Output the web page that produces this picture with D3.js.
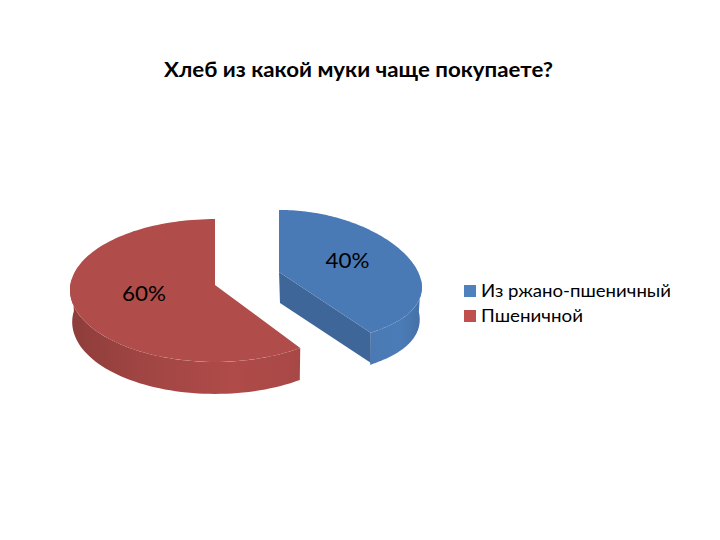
<!DOCTYPE html>
<html><head><meta charset="utf-8"><style>html,body{margin:0;background:#fff}svg{display:block}text{font-family:Lato,"Open Sans",sans-serif;fill:#000}</style>
<script src="https://cdn.jsdelivr.net/npm/d3@7"></script></head><body><div id="c"></div>
<script>
const categories = ["Из ржано-пшеничный", "Пшеничной"];
const values = [40, 60];
const valueLabels = ["40%", "60%"];
const titleText = "Хлеб из какой муки чаще покупаете?";

const svg = d3.select("#c").append("svg").attr("width",720).attr("height",540);
const defs = svg.append("defs");
function grad(id, stops, x1, x2){
  const g = defs.append("linearGradient").attr("id",id).attr("gradientUnits","userSpaceOnUse")
    .attr("x1",x1).attr("x2",x2).attr("y1",0).attr("y2",0);
  stops.forEach(([o,c])=>g.append("stop").attr("offset",o).attr("stop-color",c));
}
grad("rw",[[0,"#8e3d3b"],[0.3,"#a04543"],[0.7,"#af4b49"],[1,"#a84846"]],72,300);
grad("bw",[[0,"#4a79b3"],[0.6,"#4c7cb7"],[1,"#4672a9"]],371,418);

const DEPTH = 32, RIM = 0.985;
const slices = d3.pie().sort(null).value(d=>d)(values);
const geom = [
  {ax:279, ay:272, rx:142, ry:67, k:0.08, kx:0.11, sag:8, top:"#4a7ab5", side:"#3f6699", wall:"url(#bw)", from:Math.PI/2},
  {ax:215, ay:285, rx:145, ry:71, k:0.0769, kx:0, sag:5, top:"#b04d4a", side:"#a84846", wall:"url(#rw)", from:slices[1].startAngle, to:Math.PI*1.55}
];
function pt(g,a,rim,dy){
  const u=Math.sin(a), v=Math.cos(a);
  const r=1-(1-rim)*u*u;
  return [g.ax+g.rx*r*u/(1+g.kx*v), g.ay+dy-g.ry*v/(1+g.k*v)+g.sag*u*u];
}
const line = d3.line();
[1,0].forEach(i=>{
  const s=slices[i], g=geom[i], col=svg.append("g");
  const arcA=d3.range(0,121).map(t=>s.startAngle+(s.endAngle-s.startAngle)*t/120);
  const to=g.to!==undefined?g.to:s.endAngle;
  const wallA=d3.range(0,61).map(t=>g.from+(to-g.from)*t/60);
  const wp=wallA.map(a=>pt(g,a,1,0)).concat(wallA.slice().reverse().map(a=>pt(g,a,RIM,DEPTH)));
  col.append("path").attr("d",line(wp)+"Z").attr("fill",g.wall);
  if(i===0){
    const e=pt(g,s.endAngle,1,0);
    col.append("path").attr("d",line([[g.ax,g.ay],e,[e[0],e[1]+DEPTH-2],[g.ax+1,g.ay+DEPTH-1]])+"Z").attr("fill",g.side);
  }
  const tp=[[g.ax,g.ay]].concat(arcA.map(a=>pt(g,a,1,0)));
  col.append("path").attr("d",line(tp)+"Z").attr("fill",g.top);
});
const labelPos=[[347.5,268],[144,301]];
svg.selectAll("text.v").data(valueLabels).join("text").attr("class","v")
  .attr("x",(d,i)=>labelPos[i][0]).attr("y",(d,i)=>labelPos[i][1])
  .attr("text-anchor","middle").attr("font-size",21).attr("textLength",44).attr("lengthAdjust","spacingAndGlyphs").text(d=>d);
svg.append("text").attr("x",358.5).attr("y",77).attr("text-anchor","middle")
  .attr("font-size",20.5).attr("font-weight",700).attr("textLength",389).attr("lengthAdjust","spacingAndGlyphs").text(titleText);
const legendY=d3.scalePoint().domain(categories).range([291,316]);
const legendCol=["#4f81bd","#c0504d"];
const legendLen=[190,102];
const lg=svg.selectAll("g.l").data(categories).join("g").attr("class","l")
  .attr("transform",d=>`translate(0,${legendY(d)})`);
lg.append("rect").attr("x",464).attr("y",-6).attr("width",12).attr("height",12).attr("fill",(d,i)=>legendCol[i]);
lg.append("text").attr("x",481).attr("y",6).attr("font-size",18).attr("textLength",(d,i)=>legendLen[i]).attr("lengthAdjust","spacingAndGlyphs").text(d=>d);
</script></body></html>
